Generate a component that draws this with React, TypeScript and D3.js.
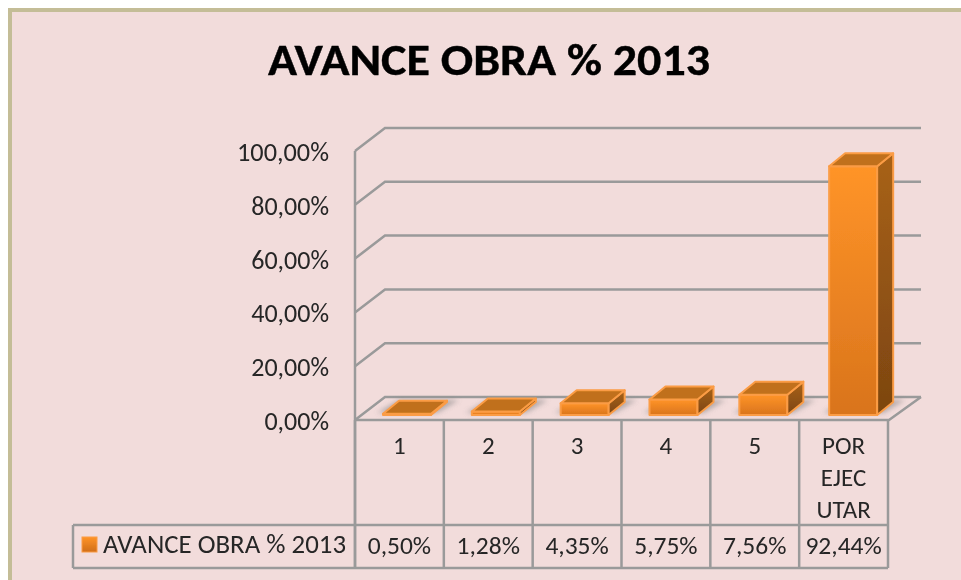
import React from "react";
import * as d3 from "d3";

const title = "AVANCE OBRA % 2013";
const categories = ["1", "2", "3", "4", "5", "POR EJEC UTAR"];
const categoryLines = [["1"], ["2"], ["3"], ["4"], ["5"], ["POR", "EJEC", "UTAR"]];
const values = [0.5, 1.28, 4.35, 5.75, 7.56, 92.44];
const valueLabels = ["0,50%", "1,28%", "4,35%", "5,75%", "7,56%", "92,44%"];
const ticks = [0, 20, 40, 60, 80, 100];
const tickLabels = ["0,00%", "20,00%", "40,00%", "60,00%", "80,00%", "100,00%"];

const FONT = "Carlito, Calibri, 'Open Sans', 'Noto Sans', sans-serif";
const grey = "#9a9a9a";
const dx = 30, dy = -23;
const bdx = 16, bdy = -13;

export default function App() {
  const y = d3.scaleLinear().domain([0, 100]).range([420, 151]);
  const x = d3.scaleBand<string>().domain(categories).range([355, 888]);
  const barY = d3.scaleLinear().domain([0, 100]).range([415, 146]);
  const barW = 48;
  return (
    <svg width={961} height={580} style={{ position: "fixed", left: 0, top: 0, background: "#fff" }}>
      <defs>
        <linearGradient id="front" x1="0" y1="0" x2="0" y2="1">
          <stop offset="0" stopColor="#ff9428" />
          <stop offset="1" stopColor="#d9741c" />
        </linearGradient>
        <linearGradient id="side" x1="0" y1="0" x2="0" y2="1">
          <stop offset="0" stopColor="#a86218" />
          <stop offset="1" stopColor="#7c4510" />
        </linearGradient>
        <linearGradient id="leg" x1="0" y1="0" x2="0" y2="1">
          <stop offset="0" stopColor="#ff9428" />
          <stop offset="1" stopColor="#d06e18" />
        </linearGradient>
        <filter id="soft" x="-30%" y="-60%" width="160%" height="220%">
          <feGaussianBlur stdDeviation="2.5" />
        </filter>
        <filter id="aa" x="-2%" y="-2%" width="104%" height="104%">
          <feGaussianBlur stdDeviation="0.35" />
        </filter>
      </defs>
      <rect x={10} y={10} width={960} height={575} fill="#f2dcdb" stroke="#c4bd97" strokeWidth={4} />
      <g filter="url(#aa)">
        <text x={489} y={75} textAnchor="middle" fontFamily={FONT} fontWeight={700} fontSize={44} fill="#000" stroke="#000" strokeWidth={0.4} textLength={442} lengthAdjust="spacingAndGlyphs">{title}</text>

        <g stroke={grey} strokeWidth={2.5} fill="none">
          {ticks.map((t) => (
            <path key={t} d={`M355,${y(t)}L${355 + dx},${y(t) + dy}H921`} />
          ))}
          <line x1={355} x2={355} y1={y(100)} y2={568} />
          <path d={`M355,${y(0)}H889L921,${y(0) + dy}`} />
        </g>
        {ticks.map((t, i) => (
          <text key={t} x={329} y={y(t) + 10} textAnchor="end" fontFamily={FONT} fontSize={26} fill="#262626" textLength={i === 5 ? 92 : undefined} lengthAdjust="spacingAndGlyphs">{tickLabels[i]}</text>
        ))}

        {values.map((v, i) => {
          const c = categories[i];
          const x0 = x(c)! + 28 + (i === 5 ? 2 : i === 4 ? 1 : 0);
          const top = barY(v), base = barY(0);
          return (
            <g key={c}>
              <path d={`M${x0 - 6},${base - 2}h${barW + 12}l${bdx + 6},${bdy}h${-barW - 12}z`} fill="#7f7f80" opacity={0.55} filter="url(#soft)" />
              <g stroke="#fb9c45" strokeWidth={2} strokeLinejoin="round">
                <rect x={x0} y={top} width={barW} height={base - top} fill="url(#front)" />
                <path d={`M${x0 + barW},${top}l${bdx},${bdy}V${base + bdy}l${-bdx},${-bdy}z`} fill="url(#side)" />
                <path d={`M${x0},${top}l${bdx},${bdy}h${barW}l${-bdx},${-bdy}z`} fill="#c0701a" />
              </g>
            </g>
          );
        })}

        <g stroke={grey} strokeWidth={2.5} fill="none">
          {d3.range(7).map((i) => (
            <line key={i} x1={355 + i * x.bandwidth()} x2={355 + i * x.bandwidth()} y1={y(0)} y2={568} />
          ))}
          <path d="M73,525H888M73,568H888M73,525V568" />
        </g>
        <rect x={82} y={537} width={15} height={15} fill="url(#leg)" stroke="#fb9c45" strokeWidth={1} />
        <text x={103} y={553} fontFamily={FONT} fontSize={26} fill="#262626" textLength={243} lengthAdjust="spacingAndGlyphs">{title}</text>
        {categoryLines.map((lines, i) =>
          lines.map((l, j) => (
            <text key={l} x={x(categories[i])! + x.bandwidth() / 2} y={454 + j * 32} textAnchor="middle" fontFamily={FONT} fontSize={25} fill="#262626">{l}</text>
          ))
        )}
        {valueLabels.map((l, i) => (
          <text key={l} x={x(categories[i])! + x.bandwidth() / 2} y={554} textAnchor="middle" fontFamily={FONT} fontSize={25.5} fill="#262626">{l}</text>
        ))}
      </g>
    </svg>
  );
}
